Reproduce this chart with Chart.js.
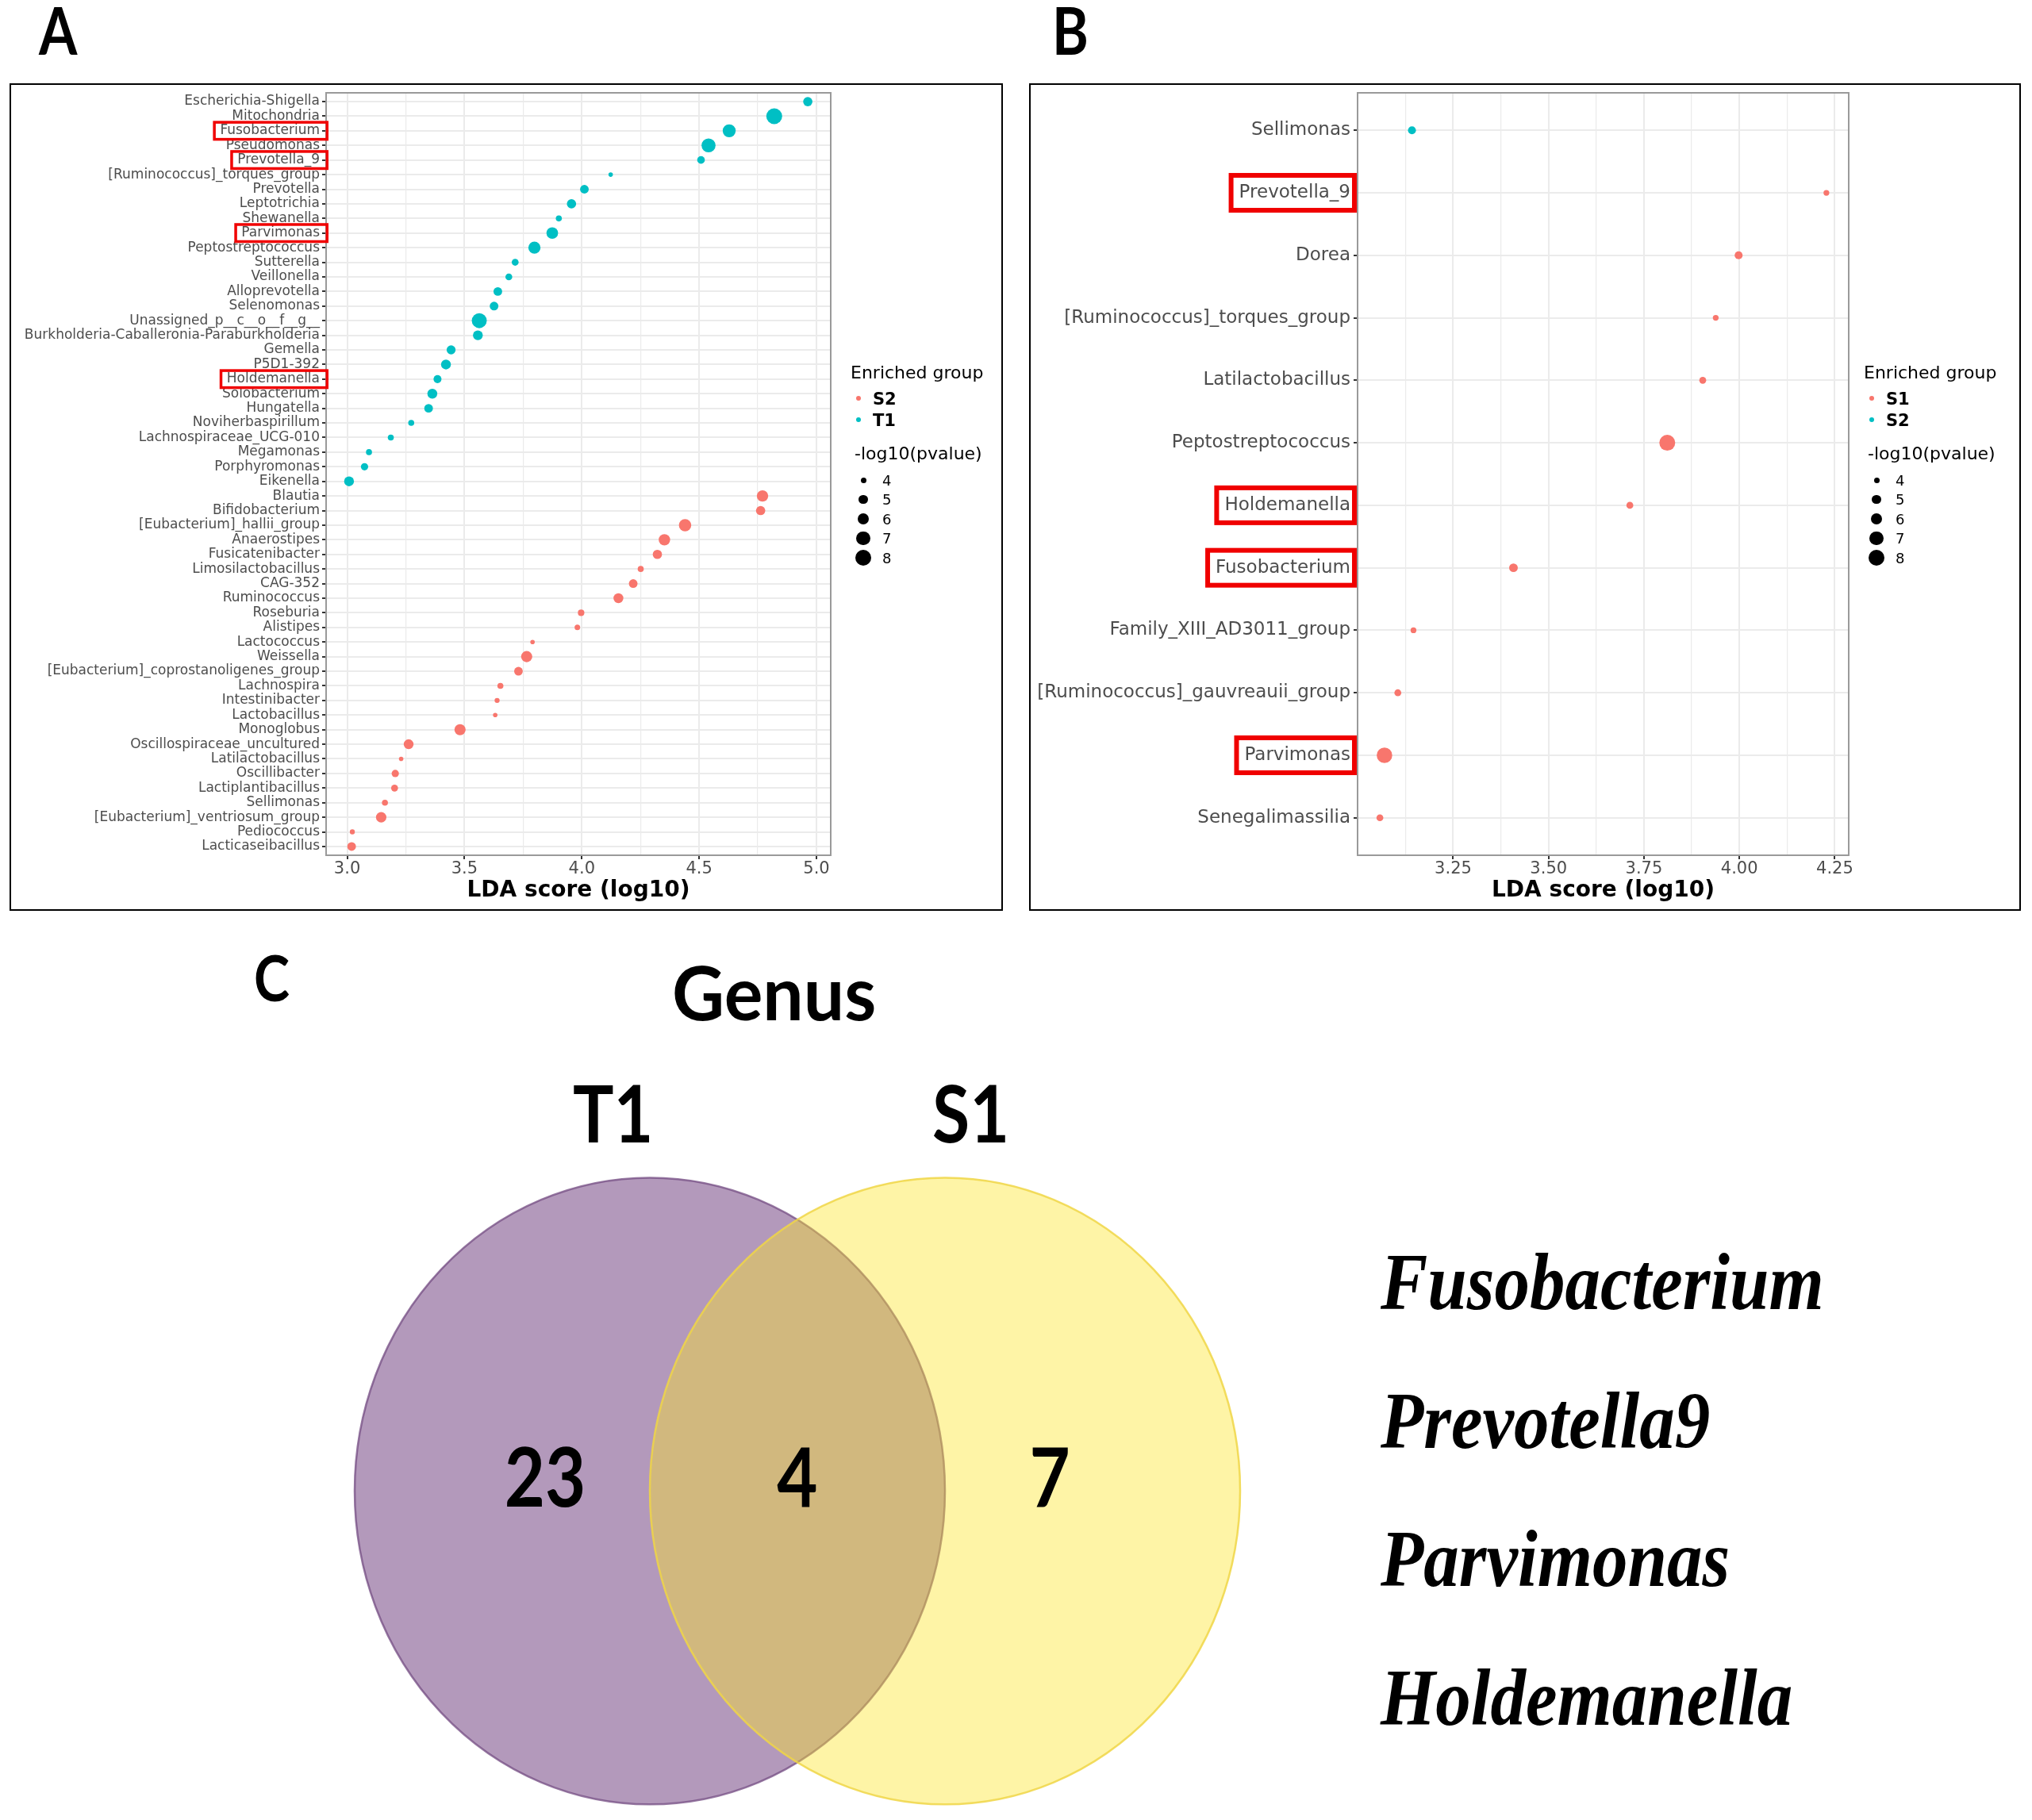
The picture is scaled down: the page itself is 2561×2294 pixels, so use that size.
<!DOCTYPE html>
<html>
<head>
<meta charset="utf-8">
<title>LDA genus comparison</title>
<script src="https://cdn.jsdelivr.net/npm/chart.js@4.4.1/dist/chart.umd.min.js"></script>
<style>
  html, body { margin: 0; padding: 0; background: #fff; }
  body { position: relative; width: 2561px; height: 2294px; overflow: hidden; }
  .frame { position: absolute; box-sizing: border-box; border: 2px solid #000; }
  .box { position: absolute; }
  .txt { position: absolute; white-space: nowrap; line-height: 1; }
  .dot { position: absolute; border-radius: 50%; }
</style>
</head>
<body>
<div class="frame" style="left:12px;top:105px;width:1252px;height:1043px"><canvas id="chartA"></canvas></div>
<div class="frame" style="left:1297px;top:105px;width:1250px;height:1043px"><canvas id="chartB"></canvas></div>
<div class="box" style="left:261px;top:1287px;width:1488px;height:1007px"><canvas id="chartC"></canvas></div>
<script>
// panel A: T1 vs S2
const genusA = ['Escherichia-Shigella', 'Mitochondria', 'Fusobacterium', 'Pseudomonas', 'Prevotella_9',
  '[Ruminococcus]_torques_group', 'Prevotella', 'Leptotrichia', 'Shewanella', 'Parvimonas',
  'Peptostreptococcus', 'Sutterella', 'Veillonella', 'Alloprevotella', 'Selenomonas',
  'Unassigned_p__c__o__f__g__', 'Burkholderia-Caballeronia-Paraburkholderia', 'Gemella', 'P5D1-392',
  'Holdemanella', 'Solobacterium', 'Hungatella', 'Noviherbaspirillum', 'Lachnospiraceae_UCG-010',
  'Megamonas', 'Porphyromonas', 'Eikenella', 'Blautia', 'Bifidobacterium', '[Eubacterium]_hallii_group',
  'Anaerostipes', 'Fusicatenibacter', 'Limosilactobacillus', 'CAG-352', 'Ruminococcus', 'Roseburia',
  'Alistipes', 'Lactococcus', 'Weissella', '[Eubacterium]_coprostanoligenes_group', 'Lachnospira',
  'Intestinibacter', 'Lactobacillus', 'Monoglobus', 'Oscillospiraceae_uncultured', 'Latilactobacillus',
  'Oscillibacter', 'Lactiplantibacillus', 'Sellimonas', '[Eubacterium]_ventriosum_group', 'Pediococcus',
  'Lacticaseibacillus'];
const ldaA = [4.963, 4.820, 4.628, 4.540, 4.508, 4.123, 4.011, 3.956, 3.902, 3.874,
  3.798, 3.716, 3.689, 3.642, 3.626, 3.563, 3.557, 3.443, 3.421, 3.385,
  3.363, 3.347, 3.273, 3.186, 3.093, 3.074, 3.008, 4.770, 4.762, 4.440,
  4.352, 4.322, 4.251, 4.219, 4.156, 3.997, 3.981, 3.790, 3.765, 3.730,
  3.653, 3.639, 3.631, 3.481, 3.262, 3.230, 3.205, 3.202, 3.161, 3.145,
  3.022, 3.019];
const logpA = [5.0, 8.0, 6.5, 7.0, 4.5, 3.8, 4.8, 5.0, 4.1, 5.9,
  6.1, 4.3, 4.3, 4.8, 4.8, 7.5, 5.2, 4.9, 5.2, 4.6,
  5.2, 4.8, 4.1, 4.1, 4.1, 4.4, 5.2, 5.8, 5.0, 6.2,
  5.8, 5.0, 4.1, 4.8, 5.2, 4.2, 4.0, 3.8, 5.7, 4.8,
  4.1, 3.9, 3.8, 5.7, 5.2, 3.8, 4.4, 4.3, 4.1, 5.4,
  3.9, 4.8];
const groupA = ['T1', 'T1', 'T1', 'T1', 'T1', 'T1', 'T1', 'T1', 'T1', 'T1',
  'T1', 'T1', 'T1', 'T1', 'T1', 'T1', 'T1', 'T1', 'T1', 'T1',
  'T1', 'T1', 'T1', 'T1', 'T1', 'T1', 'T1', 'S2', 'S2', 'S2',
  'S2', 'S2', 'S2', 'S2', 'S2', 'S2', 'S2', 'S2', 'S2', 'S2',
  'S2', 'S2', 'S2', 'S2', 'S2', 'S2', 'S2', 'S2', 'S2', 'S2',
  'S2', 'S2'];
const groupsA = ['S2', 'T1'];
const ticksA = ['3.0', '3.5', '4.0', '4.5', '5.0'];
const highlightA = ['Fusobacterium', 'Prevotella_9', 'Parvimonas', 'Holdemanella'];

// panel B: S1 vs S2
const genusB = ['Sellimonas', 'Prevotella_9', 'Dorea', '[Ruminococcus]_torques_group', 'Latilactobacillus',
  'Peptostreptococcus', 'Holdemanella', 'Fusobacterium', 'Family_XIII_AD3011_group',
  '[Ruminococcus]_gauvreauii_group', 'Parvimonas', 'Senegalimassilia'];
const ldaB = [3.142, 4.228, 3.998, 3.938, 3.904, 3.811, 3.713, 3.408, 3.146, 3.105, 3.070, 3.058];
const logpB = [4.6, 4.05, 4.6, 4.05, 4.3, 8.0, 4.3, 4.8, 4.05, 4.3, 7.8, 4.3];
const groupB = ['S2', 'S1', 'S1', 'S1', 'S1', 'S1', 'S1', 'S1', 'S1', 'S1', 'S1', 'S1'];
const groupsB = ['S1', 'S2'];
const ticksB = ['3.25', '3.50', '3.75', '4.00', '4.25'];
const highlightB = ['Prevotella_9', 'Holdemanella', 'Fusobacterium', 'Parvimonas'];

const sizeKeys = [4, 5, 6, 7, 8];

// panel C: Venn of genera
const vennSets = ['T1', 'S1'];
const vennCounts = [23, 4, 7];
const sharedGenera = ['Fusobacterium', 'Prevotella9', 'Parvimonas', 'Holdemanella'];

const hue = ['#F8766D', '#00BFC4'];
const labelGrey = '#4D4D4D';

Chart.defaults.font.family = 'DejaVu Sans';

function radiusFor(v) {
  const rMin = 3.5, rMax = 10;
  const t = (v - sizeKeys[0]) / (sizeKeys[sizeKeys.length - 1] - sizeKeys[0]);
  const r2 = rMin * rMin + t * (rMax * rMax - rMin * rMin);
  return Math.sqrt(Math.max(r2, 6));
}

function panelPlugin(p) {
  return {
    id: 'panel_' + p.id,
    afterDraw(chart) {
      const { ctx, chartArea: a, scales: { y } } = chart;
      ctx.save();
      ctx.strokeStyle = '#9A9A9A';
      ctx.lineWidth = 2;
      ctx.strokeRect(a.left, a.top, a.right - a.left, a.bottom - a.top);
      // red boxes around the genera shared by both comparisons
      ctx.font = p.labelSize + 'px "DejaVu Sans"';
      ctx.strokeStyle = '#F00000';
      ctx.lineWidth = p.box.lw;
      p.highlight.forEach(name => {
        const i = p.genus.indexOf(name);
        const yc = y.getPixelForValue(i);
        const textRight = y.right - 5 - p.tickPad;
        const w = ctx.measureText(name).width;
        const x0 = textRight - w - p.box.padL + p.box.lw / 2;
        const x1 = y.right + p.box.padR - p.box.lw / 2;
        const h = p.box.h - p.box.lw;
        ctx.strokeRect(x0, yc - h / 2, x1 - x0, h);
      });
      ctx.restore();
    }
  };
}

function makeLDA(p) {
  const n = p.genus.length;
  const lo = Math.min(...p.lda), hi = Math.max(...p.lda);
  const ex = (hi - lo) * 0.05;
  const xmin = lo - ex, xmax = hi + ex;

  const major = p.ticks.map(t => ({ value: parseFloat(t), lbl: t, minor: false }));
  const step = major[1].value - major[0].value;
  const minor = [];
  for (let i = -1; i < major.length; i++) {
    const v = (i < 0 ? major[0].value - step : major[i].value) + step / 2;
    if (v > xmin && v < xmax) minor.push({ value: v, lbl: '', minor: true });
  }
  const xTicks = major.concat(minor).sort((a, b) => a.value - b.value);

  const datasets = p.groups.map((g, gi) => ({
    label: g,
    data: p.genus.map((name, i) => ({ x: p.lda[i], y: i, v: p.logp[i], g: p.group[i] }))
      .filter(d => d.g === g),
    backgroundColor: hue[gi],
    borderWidth: 0,
    pointRadius: c => radiusFor(c.raw.v),
    pointHoverRadius: c => radiusFor(c.raw.v)
  }));

  return new Chart(document.getElementById(p.id), {
    type: 'scatter',
    data: { datasets },
    options: {
      responsive: true,
      maintainAspectRatio: false,
      animation: false,
      events: [],
      layout: { padding: { top: 9, right: 215, bottom: 0, left: 0 } },
      plugins: { legend: { display: false }, tooltip: { enabled: false } },
      scales: {
        x: {
          type: 'linear',
          min: xmin,
          max: xmax,
          afterBuildTicks: s => { s.ticks = xTicks.map(t => Object.assign({}, t)); },
          afterFit: s => { s.height = 68; s.paddingLeft = 0; s.paddingRight = 0; },
          ticks: {
            autoSkip: false,
            maxRotation: 0,
            padding: 0,
            color: labelGrey,
            font: { size: 21 },
            callback: (v, i, ts) => ts[i].lbl
          },
          grid: {
            color: '#EBEBEB',
            lineWidth: c => (c.tick && c.tick.minor ? 1.2 : 2),
            tickLength: 5,
            tickWidth: 2,
            tickColor: c => (c.tick && c.tick.minor ? 'rgba(0,0,0,0)' : '#333333')
          },
          border: { display: false },
          title: {
            display: true,
            text: 'LDA score (log10)',
            color: '#000',
            font: { size: 28, weight: 'bold' },
            padding: { top: 0, bottom: 6 }
          }
        },
        y: {
          type: 'linear',
          reverse: true,
          min: -0.6,
          max: n - 1 + 0.6,
          afterBuildTicks: s => { s.ticks = p.genus.map((g, i) => ({ value: i })); },
          afterFit: s => { s.width = p.yWidth; s.paddingTop = 0; s.paddingBottom = 0; },
          ticks: {
            autoSkip: false,
            padding: p.tickPad,
            color: labelGrey,
            font: { size: p.labelSize },
            callback: v => p.genus[v]
          },
          grid: { color: '#EBEBEB', lineWidth: 2, tickLength: 5, tickWidth: 2, tickColor: '#333333' },
          border: { display: false }
        }
      }
    },
    plugins: [panelPlugin(p)]
  });
}

makeLDA({ id: 'chartA', genus: genusA, lda: ldaA, logp: logpA, group: groupA, groups: groupsA,
  ticks: ticksA, highlight: highlightA, labelSize: 17, tickPad: 3, yWidth: 397,
  box: { padL: 9, padR: 3, lw: 3.5, h: 25 } });
makeLDA({ id: 'chartB', genus: genusB, lda: ldaB, logp: logpB, group: groupB, groups: groupsB,
  ticks: ticksB, highlight: highlightB, labelSize: 23, tickPad: 4, yWidth: 412,
  box: { padL: 13, padR: -1, lw: 6, h: 50 } });

// Venn diagram
const vennCenters = [-0.5, 0.5];
const vennRadius = 1;
const vennFill = ['rgba(103,51,119,0.5)', 'rgba(253,228,38,0.41)'];
const vennStroke = ['rgba(115,75,130,0.75)', 'rgba(240,214,70,0.85)'];
const countX = [vennCenters[0] - 0.355, (vennCenters[0] + vennCenters[1]) / 2, vennCenters[1] + 0.355];

const vennPlugin = {
  id: 'venn',
  beforeDatasetsDraw(chart) {
    const { ctx, scales: { x, y } } = chart;
    ctx.save();
    vennSets.forEach((s, i) => {
      const cx = x.getPixelForValue(vennCenters[i]);
      const cy = y.getPixelForValue(0);
      const rx = x.getPixelForValue(vennCenters[i] + vennRadius) - cx;
      const ry = cy - y.getPixelForValue(vennRadius);
      ctx.beginPath();
      ctx.ellipse(cx, cy, rx, ry, 0, 0, Math.PI * 2);
      ctx.fillStyle = vennFill[i];
      ctx.fill();
      ctx.lineWidth = 2.5;
      ctx.strokeStyle = vennStroke[i];
      ctx.stroke();
    });
    ctx.restore();
  },
  afterDatasetsDraw(chart) {
    const { ctx } = chart;
    const meta = chart.getDatasetMeta(0);
    ctx.save();
    ctx.font = 'bold 104px Lato';
    ctx.fillStyle = '#000';
    ctx.textAlign = 'center';
    ctx.textBaseline = 'alphabetic';
    meta.data.forEach((pt, i) => {
      ctx.save();
      ctx.translate(pt.x, pt.y);
      ctx.scale(0.85, 1);
      ctx.fillText(String(vennCounts[i]), 0, 0);
      ctx.restore();
    });
    ctx.restore();
  }
};

new Chart(document.getElementById('chartC'), {
  type: 'scatter',
  data: { datasets: [{ data: vennCounts.map((c, i) => ({ x: countX[i], y: -0.05 })), pointRadius: 0 }] },
  options: {
    responsive: true,
    maintainAspectRatio: false,
    animation: false,
    events: [],
    layout: { padding: 0 },
    plugins: { legend: { display: false }, tooltip: { enabled: false } },
    scales: {
      x: { type: 'linear', min: -2, max: 2, display: false },
      y: { type: 'linear', min: -1.05, max: 1.5, display: false }
    }
  },
  plugins: [vennPlugin]
});

// text outside the canvases
function placeText(txt, o) {
  const d = document.createElement('div');
  d.className = 'txt';
  d.style.fontFamily = o.family || '"DejaVu Sans"';
  d.style.fontSize = o.size + 'px';
  d.style.fontWeight = o.weight || 400;
  d.style.fontStyle = o.style || 'normal';
  d.style.color = o.color || '#000';
  d.textContent = txt;
  const m = document.createElement('span');
  m.style.cssText = 'display:inline-block;width:0;height:0;vertical-align:baseline';
  d.appendChild(m);
  document.body.appendChild(d);
  const base = m.offsetTop;
  const sx = o.scaleX || 1, sy = o.scaleY || 1;
  const w = d.offsetWidth * sx;
  d.style.top = (o.baseline - base) + 'px';
  d.style.left = (o.align === 'center' ? o.x - w / 2 : o.x) + 'px';
  if (sx !== 1 || sy !== 1) {
    d.style.transformOrigin = '0 ' + base + 'px';
    d.style.transform = 'scale(' + sx + ',' + sy + ')';
  }
  return d;
}

function addDot(cx, cy, r, color) {
  const d = document.createElement('div');
  d.className = 'dot';
  d.style.left = (cx - r) + 'px';
  d.style.top = (cy - r) + 'px';
  d.style.width = d.style.height = (2 * r) + 'px';
  d.style.background = color;
  document.body.appendChild(d);
}

function buildLegend(x0, groups) {
  placeText('Enriched group', { x: x0, baseline: 477, size: 22 });
  groups.forEach((g, i) => {
    const cy = 502 + i * 27;
    addDot(x0 + 10, cy, 3, hue[i]);
    placeText(g, { x: x0 + 28, baseline: cy + 7.5, size: 21, weight: 700 });
  });
  placeText('-log10(pvalue)', { x: x0 + 5, baseline: 579, size: 22 });
  sizeKeys.forEach((k, i) => {
    const cy = 605 + i * 24.5;
    addDot(x0 + 16, cy, radiusFor(k), '#000');
    placeText(String(k), { x: x0 + 40, baseline: cy + 6.5, size: 18 });
  });
}

buildLegend(1072, groupsA);
buildLegend(2349, groupsB);

const lato = 'Lato';
placeText('A', { x: 49, baseline: 69, size: 82, family: lato, weight: 700, scaleX: 0.85 });
placeText('B', { x: 1326, baseline: 69, size: 82, family: lato, weight: 700, scaleX: 0.85 });
placeText('C', { x: 320, baseline: 1262, size: 80, family: lato, weight: 700, scaleX: 0.85 });
placeText('Genus', { x: 976, baseline: 1286, size: 94, family: lato, weight: 700, align: 'center', scaleX: 0.97 });
const setLabelX = [773, 1224];
vennSets.forEach((s, i) => placeText(s, {
  x: setLabelX[i], baseline: 1440, size: 100, family: lato, weight: 700, align: 'center', scaleX: 0.86
}));
sharedGenera.forEach((g, i) => placeText(g, {
  x: 1740, baseline: 1650 + i * 174.7, size: 89, family: '"Liberation Serif"',
  weight: 700, style: 'italic', scaleY: 1.13
}));
</script>
</body>
</html>
